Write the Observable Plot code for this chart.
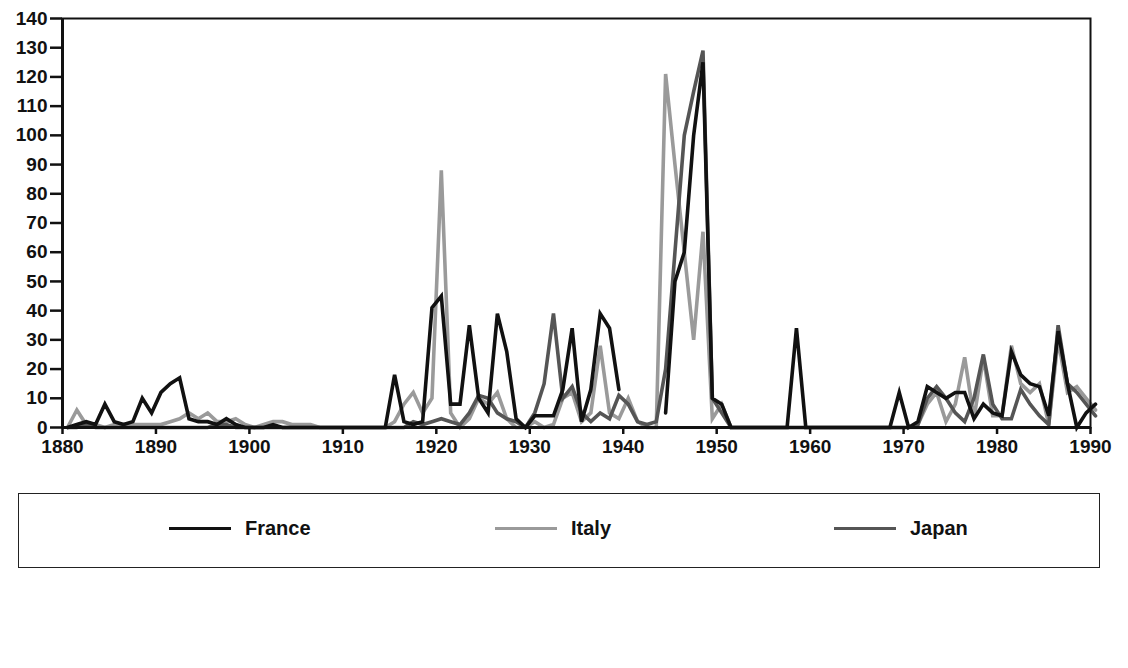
<!DOCTYPE html>
<html>
<head>
<meta charset="utf-8">
<script src="https://cdn.jsdelivr.net/npm/d3@7"></script>
<script src="https://cdn.jsdelivr.net/npm/@observablehq/plot@0.6"></script>
<style>
  html, body { margin: 0; padding: 0; background: #fff; }
  body { width: 1128px; height: 668px; position: relative; overflow: hidden; font-family: "Liberation Sans", Arial, sans-serif; }
  #chart { position: absolute; left: 0; top: 0; }
  #legend { position: absolute; left: 18px; top: 493px; width: 1082px; height: 75px; border: 1.5px solid #222; box-sizing: border-box; }
  .item { position: absolute; top: 23px; display: flex; align-items: center; font-weight: bold; font-size: 20px; color: #111; }
  .swatch { width: 62px; height: 3px; margin-right: 14px; }
</style>
</head>
<body>
<div id="chart"></div>
<div id="legend"></div>
<script>
const countries = ["France", "Italy", "Japan"];
const colors = ["#111111", "#9a9a9a", "#555555"];
const years = d3.range(1880, 1991);
const xTicks = [1880, 1890, 1900, 1910, 1920, 1930, 1940, 1950, 1960, 1970, 1980, 1990];
const yTicks = [0, 10, 20, 30, 40, 50, 60, 70, 80, 90, 100, 110, 120, 130, 140];

const france = [
  0, 1, 2, 1, 8, 2, 1, 2, 10, 5,
  12, 15, 17, 3, 2, 2, 1, 3, 1, 0,
  0, 0, 1, 0, 0, 0, 0, 0, 0, 0,
  0, 0, 0, 0, 0, 18, 2, 1, 2, 41,
  45, 8, 8, 35, 10, 5, 39, 26, 3, 0,
  4, 4, 4, 13, 34, 2, 13, 39, 34, 13,
  null, null, null, null, 5, 50, 60, 100, 125, 10,
  8, 0, 0, 0, 0, 0, 0, 0, 34, 0,
  0, 0, 0, 0, 0, 0, 0, 0, 0, 12,
  0, 2, 14, 12, 10, 12, 12, 3, 8, 5,
  4, 26, 18, 15, 14, 4, 33, 15, 0, 5,
  8
];
const italy = [
  0, 6, 1, 1, 0, 1, 1, 1, 1, 1,
  1, 2, 3, 5, 3, 5, 2, 2, 3, 1,
  0, 1, 2, 2, 1, 1, 1, 0, 0, 0,
  0, 0, 0, 0, 0, 2, 8, 12, 5, 10,
  88, 5, 0, 3, 10, 8, 12, 3, 0, 0,
  2, 0, 1, 10, 12, 2, 5, 28, 5, 3,
  10, 2, 0, 0, 121, 90, 60, 30, 67, 3,
  8, 0, 0, 0, 0, 0, 0, 0, 0, 0,
  0, 0, 0, 0, 0, 0, 0, 0, 0, 0,
  0, 1, 8, 12, 2, 8, 24, 3, 24, 4,
  4, 28, 15, 12, 15, 1, 30, 12, 14, 10,
  6
];
const japan = [
  0, 0, 1, 0, 0, 0, 0, 0, 0, 0,
  0, 0, 0, 0, 0, 0, 1, 1, 0, 0,
  0, 0, 0, 0, 0, 0, 0, 0, 0, 0,
  0, 0, 0, 0, 0, 0, 0, 2, 1, 2,
  3, 2, 1, 5, 11, 10, 5, 3, 2, 0,
  5, 15, 39, 10, 14, 5, 2, 5, 3, 11,
  8, 2, 1, 2, 20, 60, 100, 115, 129, 10,
  5, 0, 0, 0, 0, 0, 0, 0, 0, 0,
  0, 0, 0, 0, 0, 0, 0, 0, 0, 0,
  0, 1, 10, 14, 10, 5, 2, 10, 25, 8,
  3, 3, 13, 8, 4, 1, 35, 15, 12, 8,
  4
];

const series = {France: france, Italy: italy, Japan: japan};
const drawOrder = ["Italy", "Japan", "France"];
const rows = drawOrder.flatMap(c => years.map((yr, i) => ({year: yr, value: series[c][i], country: c})));

const chart = Plot.plot({
  width: 1128,
  height: 462,
  marginLeft: 62,
  marginRight: 38,
  marginTop: 18,
  marginBottom: 35,
  style: {fontFamily: "'Liberation Sans', Arial, sans-serif", fontSize: "19px", fontWeight: "bold", color: "#111", background: "#fff"},
  x: {domain: [1880, 1990]},
  y: {domain: [0, 140]},
  color: {domain: countries, range: colors},
  marks: [
    Plot.line(rows, {x: "year", y: "value", z: "country", stroke: "country", strokeWidth: 3.6, dx: 5, strokeLinejoin: "miter", strokeMiterlimit: 4}),
    Plot.frame({stroke: "#111", strokeWidth: 2}),
    Plot.ruleX([1880], {stroke: "#111", strokeWidth: 3}),
    Plot.ruleY([0], {stroke: "#111", strokeWidth: 3}),
    Plot.axisY({ticks: yTicks, tickSize: 12, tickPadding: 3, strokeWidth: 2.5, label: null, fill: "#111"}),
    Plot.axisX({ticks: xTicks, tickSize: 7, tickPadding: 5, tickFormat: "d", strokeWidth: 2.5, label: null, fill: "#111"})
  ]
});
document.getElementById("chart").appendChild(chart);

const legendPos = {France: 150, Italy: 476, Japan: 815};
const legend = document.getElementById("legend");
countries.forEach((c, i) => {
  const item = document.createElement("div");
  item.className = "item";
  item.style.left = legendPos[c] + "px";
  const sw = document.createElement("span");
  sw.className = "swatch";
  sw.style.background = colors[i];
  const lab = document.createElement("span");
  lab.textContent = c;
  item.appendChild(sw);
  item.appendChild(lab);
  legend.appendChild(item);
});
</script>
</body>
</html>
